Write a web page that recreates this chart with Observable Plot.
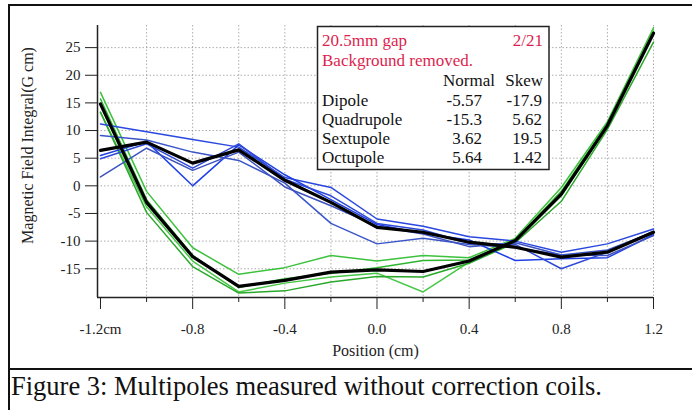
<!DOCTYPE html>
<html>
<head>
<meta charset="utf-8">
<script src="https://cdn.jsdelivr.net/npm/d3@7"></script>
<script src="https://cdn.jsdelivr.net/npm/@observablehq/plot@0.6"></script>
<style>
  html, body { margin: 0; padding: 0; background: #fff; }
  body { width: 692px; height: 410px; position: relative; overflow: hidden; font-family: "Liberation Serif", "Times New Roman", serif; }
  #chart { position: absolute; left: 0; top: 0; }
  .border { position: absolute; background: #111; z-index: 5; }
  #caption { position: absolute; left: 11px; top: 371px; font-size: 26.5px; line-height: 30px; white-space: nowrap; color: #111; z-index: 5; }
</style>
</head>
<body>
<div id="chart"></div>
<div class="border" style="left:8px; top:4px; width:700px; height:2px;"></div>
<div class="border" style="left:8px; top:4px; width:2px; height:420px;"></div>
<div class="border" style="left:8px; top:368px; width:700px; height:2px;"></div>
<div id="caption">Figure 3: Multipoles measured without correction coils.</div>
<script>
// ---- data ----
const positions = [-1.2, -1.0, -0.8, -0.6, -0.4, -0.2, 0.0, 0.2, 0.4, 0.6, 0.8, 1.0, 1.2];

const blue1 = [11.2, 9.8, 8.4, 7.0, 1.5, -0.3, -6.0, -7.3, -9.2, -10.0, -12.0, -10.5, -7.8];
const blue2 = [9.1, 8.3, 6.1, 4.6, 0.5, -6.8, -10.5, -9.5, -10.6, -11.2, -12.5, -11.6, -8.4];
const blue3 = [5.5, 8.0, 0.0, 7.4, 2.0, -2.5, -7.0, -8.6, -9.8, -13.5, -13.2, -13.0, -8.8];
const blue4 = [4.9, 7.6, 3.2, 7.6, 1.2, -1.8, -6.8, -8.0, -10.4, -10.6, -15.0, -12.0, -8.2];
const blue5 = [1.6, 6.8, 2.8, 6.1, -0.2, -3.6, -7.3, -8.7, -11.0, -10.3, -12.5, -12.6, -9.0];
const blueAverage = [6.4, 7.9, 4.1, 6.5, 1.0, -3.0, -7.5, -8.4, -10.2, -11.1, -12.9, -12.0, -8.4];

const green1 = [16.9, -1.0, -11.2, -16.0, -14.8, -12.6, -13.6, -12.6, -13.0, -9.5, -0.3, 11.6, 28.6];
const green2 = [15.7, -2.5, -12.6, -18.4, -16.8, -15.8, -14.8, -13.5, -13.4, -9.8, -1.0, 11.2, 28.0];
const green3 = [13.3, -3.8, -13.6, -19.2, -17.6, -16.5, -15.8, -19.2, -13.8, -10.0, -1.8, 10.7, 27.6];
const green4 = [13.3, -4.8, -14.6, -19.4, -19.0, -17.4, -16.4, -16.5, -14.0, -10.3, -2.8, 10.2, 26.0];
const greenAverage = [14.8, -3.0, -12.8, -18.2, -17.1, -15.6, -15.2, -15.5, -13.6, -9.9, -1.5, 10.9, 27.6];

const xMajorTicks = [-1.2, -0.8, -0.4, 0.0, 0.4, 0.8, 1.2];
const xTickLabels = ["-1.2cm", "-0.8", "-0.4", "0.0", "0.4", "0.8", "1.2"];
const xMinorTicks = [-1.0, -0.6, -0.2, 0.2, 0.6, 1.0];
const xGridTicks = [-1.0, -0.8, -0.6, -0.4, -0.2, 0.0, 0.2, 0.4, 0.6, 0.8, 1.0, 1.2];
const yTicks = [25, 20, 15, 10, 5, 0, -5, -10, -15];

const legendHeader = ["20.5mm gap", "2/21", "Background removed."];
const legendColumns = ["Normal", "Skew"];
const multipoleNames = ["Dipole", "Quadrupole", "Sextupole", "Octupole"];
const normalValues = ["-5.57", "-15.3", "3.62", "5.64"];
const skewValues = ["-17.9", "5.62", "19.5", "1.42"];

const xTitle = "Position (cm)";
const yTitle = "Magnetic Field Integral(G cm)";

// ---- build tables ----
const toRows = (vals) => positions.map((x, i) => ({x, y: vals[i]}));
const thinSeries = [
  {vals: green1, color: "#3cc23c"},
  {vals: green2, color: "#2eb52e"},
  {vals: green3, color: "#46c846"},
  {vals: green4, color: "#2aa82a"},
  {vals: blue1, color: "#2a48e0"},
  {vals: blue2, color: "#3b55c8"},
  {vals: blue3, color: "#1f3fe6"},
  {vals: blue4, color: "#2f4ad8"},
  {vals: blue5, color: "#3d52c0"}
];

const gridStyle = {stroke: "#8a8a8a", strokeOpacity: 0.7, strokeDasharray: "1.5,2"};
const serif = "'Liberation Serif', 'Times New Roman', serif";

const chart = Plot.plot({
  width: 692,
  height: 368,
  marginLeft: 97,
  marginRight: 39,
  marginTop: 25,
  marginBottom: 71,
  style: {background: "transparent", fontFamily: serif, fontSize: "15px", color: "#222"},
  x: {domain: [-1.213, 1.2]},
  y: {domain: [-20.2, 29]},
  marks: [
    Plot.gridX({ticks: xGridTicks, ...gridStyle}),
    Plot.gridY({ticks: yTicks, ...gridStyle}),
    ...thinSeries.map(s => Plot.line(toRows(s.vals), {x: "x", y: "y", stroke: s.color, strokeWidth: 1.5})),
    Plot.line(toRows(greenAverage), {x: "x", y: "y", stroke: "#000", strokeWidth: 3.2}),
    Plot.line(toRows(blueAverage), {x: "x", y: "y", stroke: "#000", strokeWidth: 3.2}),
    Plot.ruleX([-1.213], {stroke: "#222", strokeWidth: 1.5}),
    Plot.ruleY([-20.2], {stroke: "#222", strokeWidth: 1.5}),
    Plot.axisY({ticks: yTicks, tickSize: 12, tickPadding: 5, tickFormat: d => String(d), label: null, fontSize: 15}),
    Plot.axisX({ticks: xMajorTicks, tickSize: 12, tickPadding: 14, tickFormat: d => xTickLabels[xMajorTicks.indexOf(d)], label: null, fontSize: 15}),
    Plot.axisX({ticks: xMinorTicks, tickSize: 5, tickFormat: () => "", label: null}),
    Plot.text([xTitle], {text: d => d, frameAnchor: "bottom", dy: 58, fontSize: 16, fill: "#222"}),
    Plot.text([yTitle], {text: d => d, frameAnchor: "left", textAnchor: "middle", rotate: -90, dx: -70, dy: -16, fontSize: 16, fill: "#222"})
  ]
});

// ---- legend box inside the plot ----
const svg = d3.select(chart);
const lg = svg.append("g")
  .attr("font-family", serif)
  .attr("font-size", 17)
  .attr("text-anchor", "start");
lg.append("rect")
  .attr("x", 317.5).attr("y", 26.5).attr("width", 231.5).attr("height", 143)
  .attr("fill", "#fff").attr("stroke", "#222").attr("stroke-width", 1.5);
const red = "#dc1f50";
const addText = (x, y, str, fill, anchor) =>
  lg.append("text").attr("x", x).attr("y", y).attr("fill", fill).attr("text-anchor", anchor).text(str);
addText(322, 46, legendHeader[0], red, "start");
addText(543, 46, legendHeader[1], red, "end");
addText(322, 65.5, legendHeader[2], red, "start");
addText(495, 85.5, legendColumns[0], "#111", "end");
addText(543, 85.5, legendColumns[1], "#111", "end");
multipoleNames.forEach((name, i) => {
  const yb = 105.5 + i * 19;
  addText(322, yb, name, "#111", "start");
  addText(482, yb, normalValues[i], "#111", "end");
  addText(542, yb, skewValues[i], "#111", "end");
});

document.getElementById("chart").appendChild(chart);
</script>
</body>
</html>
